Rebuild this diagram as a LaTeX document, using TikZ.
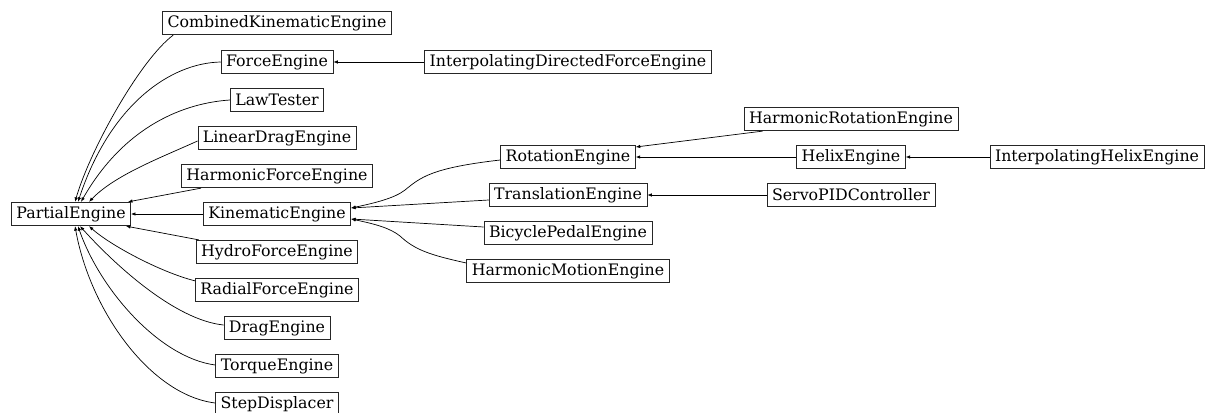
\documentclass[tikz,border=0pt]{standalone}
\usepackage{fontspec}
\setmainfont{DejaVu Serif}
\usetikzlibrary{arrows.meta}
\begin{document}
\begin{tikzpicture}[
    x=1pt,y=-1pt,
    every node/.style={font=\fontsize{15.8}{18}\selectfont},
    cls/.style={draw=black!85, line width=0.75pt, fill=white, inner xsep=5pt, inner ysep=0pt, minimum height=23.5pt},
    inh/.style={draw=black, line width=0.7pt, -{Latex[length=4.5pt,width=3.5pt]}}
]
    \useasboundingbox (0,0) rectangle (1206,412);

    \node[cls] (pe) at (71,214) {PartialEngine};
    \foreach \nm/\y/\lab in {cke/23/CombinedKinematicEngine,fe/62/ForceEngine,lt/100/LawTester,lde/138/LinearDragEngine,hfe/176/HarmonicForceEngine,ke/214/KinematicEngine,hyd/252/HydroForceEngine,rfe/290/RadialForceEngine,de/328/DragEngine,te/366/TorqueEngine,sd/404/StepDisplacer} {
        \node[cls] (\nm) at (277,\y) {\lab};
    }
    \foreach \nm/\y/\lab in {idfe/62/InterpolatingDirectedForceEngine,re/157/RotationEngine,tre/195/TranslationEngine,bpe/233/BicyclePedalEngine,hme/271/HarmonicMotionEngine} {
        \node[cls] (\nm) at (568,\y) {\lab};
    }
    \foreach \nm/\y/\lab in {hre/119/HarmonicRotationEngine,he/157/HelixEngine,spid/195/ServoPIDController} {
        \node[cls] (\nm) at (851,\y) {\lab};
    }
    \node[cls] (ihe) at (1097,157) {InterpolatingHelixEngine};

    % children of PartialEngine
    \draw[inh] ([xshift=11pt]cke.south west) .. controls (140,60) and (90,150) .. ([xshift=4pt]pe.north);
    \draw[inh] (fe.west) .. controls (170,63) and (110,105) .. ([xshift=7pt]pe.north);
    \draw[inh] (lt.west) .. controls (185,103) and (125,125) .. ([xshift=10pt]pe.north);
    \draw[inh] ([yshift=-3pt]lde.west) .. controls (160,158) and (115,175) .. ([xshift=18pt]pe.north);
    \draw[inh] ([xshift=20pt]hfe.south west) -- ([xshift=-3pt]pe.north east);
    \draw[inh] (ke.west) -- (pe.east);
    \draw[inh] ([xshift=3pt]hyd.north west) -- ([xshift=-5pt]pe.south east);
    \draw[inh] ([yshift=-3pt]rfe.north west) .. controls (160,272) and (110,245) .. ([xshift=18pt]pe.south);
    \draw[inh] ([yshift=3pt]de.west) .. controls (175,320) and (115,265) .. ([xshift=9pt]pe.south);
    \draw[inh] ([yshift=1pt]te.west) .. controls (160,358) and (100,290) .. ([xshift=7pt]pe.south);
    \draw[inh] ([yshift=1pt]sd.west) .. controls (150,395) and (90,310) .. ([xshift=4pt]pe.south);

    % children of KinematicEngine
    \draw[inh] ([yshift=-3pt]re.west) .. controls (430,168) and (420,178) .. (405,190) .. controls (395,198) and (375,203) .. ([yshift=6pt]ke.east);
    \draw[inh] ([yshift=-5pt]tre.west) -- ([yshift=6pt]ke.east);
    \draw[inh] ([yshift=6pt]bpe.west) -- ([yshift=-5pt]ke.east);
    \draw[inh] ([yshift=8pt]hme.west) .. controls (430,255) and (415,250) .. (400,236) .. controls (390,228) and (375,224) .. ([yshift=-5pt]ke.east);

    % deeper levels
    \draw[inh] (idfe.west) -- (fe.east);
    \draw[inh] ([xshift=19pt]hre.south west) -- ([yshift=10pt]re.east);
    \draw[inh] (he.west) -- (re.east);
    \draw[inh] (ihe.west) -- (he.east);
    \draw[inh] (spid.west) -- (tre.east);
\end{tikzpicture}
\end{document}
